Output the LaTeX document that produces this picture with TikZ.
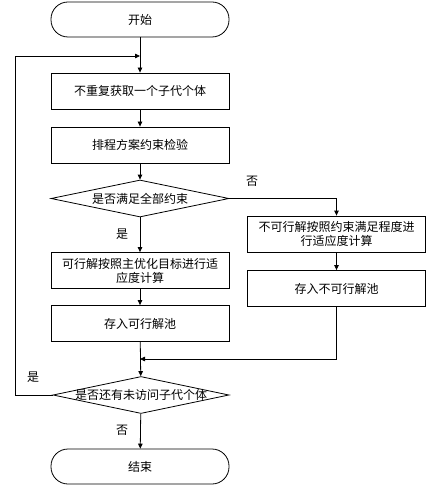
\documentclass[tikz,border=0pt]{standalone}
\usepackage{fontspec}
\setmainfont{Noto Sans CJK SC}
\usetikzlibrary{shapes.geometric,arrows.meta}
\begin{document}
\begin{tikzpicture}[x=1pt,y=-1pt,
  every node/.style={font=\fontsize{12}{14}\selectfont, align=center},
  proc/.style={draw, line width=0.8pt, minimum width=178pt, minimum height=36pt, inner sep=1pt},
  term/.style={draw, line width=0.8pt, minimum width=178pt, minimum height=35pt, rounded corners=17pt},
  dec/.style={draw, diamond, line width=0.8pt, minimum width=178pt, minimum height=37pt, inner sep=0pt},
  conn/.style={line width=0.8pt, -{Triangle[length=5pt,width=4.5pt]}},
  plain/.style={line width=0.8pt},
  lbl/.style={inner sep=0pt}]
\useasboundingbox (0,0) rectangle (427,486);
\node[term] (start) at (140,19.5) {开始};
\node[proc] (b1) at (140,91) {不重复获取一个子代个体};
\node[proc] (b2) at (140,145) {排程方案约束检验};
\node[dec] (d1) at (140,198.5) {};
\node at (d1) {是否满足全部约束};
\node[proc, text width=170pt] (b3) at (140,270.5) {可行解按照主优化目标进行适\\应度计算};
\node[proc] (b4) at (140,323.5) {存入可行解池};
\node[proc, text width=170pt] (r1) at (336.5,234) {不可行解按照约束满足程度进\\行适应度计算};
\node[proc] (r2) at (336.5,288.5) {存入不可行解池};
\node[dec, minimum width=176pt] (d2) at (141,395) {};
\node at (d2) {是否还有未访问子代个体};
\node[term] (end) at (140,466.5) {结束};
\coordinate (loopc) at (140,56);
\coordinate (merge) at (140,359);
\draw[conn] (start) -- (b1);
\draw[conn] (b1) -- (b2);
\draw[conn] (b2) -- (d1);
\draw[conn] (d1) -- (b3);
\draw[conn] (b3) -- (b4);
\draw[conn] (b4) -- (d2);
\draw[conn] (d1.east) -| (r1.north);
\draw[conn] (r1) -- (r2);
\draw[conn] (r2.south) |- (merge);
\draw[conn] (d2.west) -- (15,395) |- (loopc);
\draw[conn] (d2) -- (end);
\node[lbl] at (252,181) {否};
\node[lbl] at (122,234) {是};
\node[lbl] at (33,377) {是};
\node[lbl] at (122,430) {否};
\end{tikzpicture}
\end{document}
